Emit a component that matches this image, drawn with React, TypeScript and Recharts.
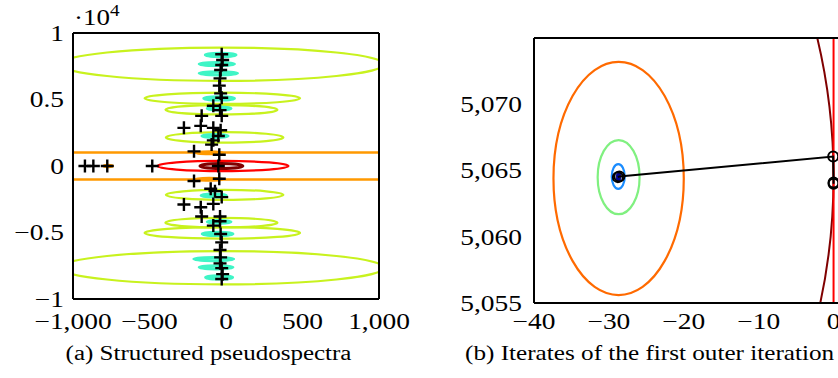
import React from 'react';
import { ScatterChart, Scatter, XAxis, YAxis, ReferenceArea, ReferenceLine } from 'recharts';

type Ell = { cx: number; cy: number; rx: number; ry: number };

// (a) eigenvalues: real part, imaginary part (in 10^4)
const eigsA = [
  { re: -922, im: 0 }, { re: -867, im: 0 }, { re: -776, im: 0 }, { re: -482, im: 0 },
  { re: -50, im: 0 },
  { re: -28, im: 0.84 }, { re: -22, im: 0.797 }, { re: -28, im: 0.759 }, { re: -35, im: 0.722 },
  { re: -39, im: 0.659 }, { re: -44, im: 0.604 }, { re: -35, im: 0.546 }, { re: -28, im: 0.513 },
  { re: -83, im: 0.453 }, { re: -39, im: 0.42 }, { re: -28, im: 0.377 }, { re: -159, im: 0.377 },
  { re: -165, im: 0.302 }, { re: -275, im: 0.287 }, { re: -83, im: 0.287 }, { re: -35, im: 0.269 },
  { re: -50, im: 0.226 }, { re: -83, im: 0.193 }, { re: -94, im: 0.161 }, { re: -209, im: 0.11 },
  { re: -44, im: 0.085 },
  { re: -44, im: -0.096 }, { re: -209, im: -0.113 }, { re: -100, im: -0.171 }, { re: -72, im: -0.189 },
  { re: -28, im: -0.234 }, { re: -275, im: -0.29 }, { re: -83, im: -0.285 }, { re: -165, im: -0.31 },
  { re: -159, im: -0.38 }, { re: -39, im: -0.38 }, { re: -83, im: -0.448 }, { re: -39, im: -0.415 },
  { re: -35, im: -0.511 }, { re: -28, im: -0.574 }, { re: -39, im: -0.632 }, { re: -35, im: -0.687 },
  { re: -39, im: -0.732 }, { re: -28, im: -0.768 }, { re: -22, im: -0.813 }, { re: -28, im: -0.85 },
];

// (a) pseudospectra level curves
const limeA: Ell[] = [
  { cx: -28, cy: 0.765, rx: 1060, ry: 0.125 },
  { cx: -28, cy: -0.765, rx: 1060, ry: 0.125 },
  { cx: -24, cy: 0.509, rx: 508, ry: 0.042 },
  { cx: -24, cy: -0.503, rx: 508, ry: 0.043 },
  { cx: -30, cy: 0.423, rx: 366, ry: 0.035 },
  { cx: -30, cy: -0.426, rx: 366, ry: 0.036 },
  { cx: -9, cy: 0.215, rx: 384, ry: 0.039 },
  { cx: -9, cy: -0.217, rx: 384, ry: 0.038 },
];
const aquaA: Ell[] = [
  { cx: -35, cy: 0.835, rx: 100, ry: 0.012 },
  { cx: -60, cy: 0.767, rx: 115, ry: 0.012 },
  { cx: -50, cy: 0.697, rx: 125, ry: 0.012 },
  { cx: -45, cy: 0.508, rx: 100, ry: 0.012 },
  { cx: -45, cy: 0.432, rx: 78, ry: 0.011 },
  { cx: -72, cy: 0.226, rx: 85, ry: 0.011 },
  { cx: -80, cy: -0.222, rx: 83, ry: 0.011 },
  { cx: -45, cy: -0.42, rx: 78, ry: 0.011 },
  { cx: -55, cy: -0.511, rx: 100, ry: 0.012 },
  { cx: -80, cy: -0.7, rx: 130, ry: 0.012 },
  { cx: -65, cy: -0.762, rx: 110, ry: 0.012 },
  { cx: -45, cy: -0.838, rx: 88, ry: 0.012 },
];
const orangeA: Ell[] = [
  { cx: -30, cy: 0, rx: 20000, ry: 0.102 },
  { cx: -110, cy: 0.1, rx: 90, ry: 0.01 },
  { cx: -110, cy: -0.1, rx: 90, ry: 0.01 },
  { cx: -770, cy: 0, rx: 30, ry: 0.008 },
];
const redA: Ell[] = [{ cx: -20, cy: 0, rx: 428, ry: 0.038 }];
const maroonA: Ell[] = [{ cx: -30, cy: 0, rx: 140, ry: 0.019 }];

const xTicksA = [-1000, -500, 0, 500, 1000];
const yTicksA = [-1, -0.5, 0, 0.5, 1];

// (b) iterates and level curves around the eigenvalue
const iteratesB = [
  { re: -28.8, im: 5064.5 },
  { re: -28.6, im: 5064.55 },
  { re: -0.05, im: 5066.05 },
  { re: 0, im: 5064.1 },
  { re: 0, im: 5064.0 },
];
const orangeB: Ell[] = [{ cx: -28.7, cy: 5064.4, rx: 8.7, ry: 8.8 }];
const greenB: Ell[] = [{ cx: -28.7, cy: 5064.5, rx: 2.8, ry: 2.8 }];
const blueB: Ell[] = [{ cx: -28.75, cy: 5064.55, rx: 0.87, ry: 0.93 }];
const navyB: Ell[] = [{ cx: -28.7, cy: 5064.5, rx: 0.3, ry: 0.35 }];
const maroonB: Ell[] = [{ cx: -152, cy: 5064.5, rx: 152, ry: 62 }];
const redLineB = 0;

const xTicksB = [-40, -30, -20, -10, 0];
const yTicksB = [5055, 5060, 5065, 5070];

const FONT = '"Liberation Serif", serif';
const TICK_SX = 1.22;

const fmt = (v: number) => (v < 0 ? '\u2212' : '') + Math.abs(v).toLocaleString('en-US');

const TickText = (p: any) => (
  <text
    transform={`translate(${p.x},${p.y}) scale(${TICK_SX},1)`}
    textAnchor={p.textAnchor}
    dy={p.dy}
    fontSize={22.5}
    fontFamily={FONT}
    fill="#000"
  >
    {fmt(p.payload.value)}
  </text>
);

const ellipseShape = (color: string, width: number, fill = 'none') => (p: any) => (
  <ellipse
    cx={p.x + p.width / 2}
    cy={p.y + p.height / 2}
    rx={Math.abs(p.width / 2)}
    ry={Math.abs(p.height / 2)}
    fill={fill}
    stroke={color}
    strokeWidth={width}
    clipPath={p.clipPath}
  />
);

const ellipses = (list: Ell[], name: string, color: string, width: number, fill = 'none') =>
  list.map((e, i) => (
    <ReferenceArea
      key={`${name}-${i}`}
      x1={e.cx - e.rx}
      x2={e.cx + e.rx}
      y1={e.cy - e.ry}
      y2={e.cy + e.ry}
      ifOverflow="hidden"
      shape={ellipseShape(color, width, fill)}
    />
  ));

const plus = (p: any) => (
  <path d={`M${p.cx - 6.5},${p.cy}h13M${p.cx},${p.cy - 6.5}v13`} stroke="#000" strokeWidth={2.4} fill="none" />
);

const ring = (p: any) => <circle cx={p.cx} cy={p.cy} r={5} fill="none" stroke="#000" strokeWidth={2} />;

const frameTick = { stroke: '#9a9a9a', strokeWidth: 1.2 };
const frameLine = { stroke: '#000', strokeWidth: 2 };

// four sides of the box: label axes + mirrored axes for the inner ticks
const frameAxes = (xDomain: number[], yDomain: number[], xTicks: number[], yTicks: number[]) => [
  <XAxis key="xt" xAxisId="top" orientation="top" mirror type="number" dataKey="re" domain={xDomain}
    ticks={xTicks} allowDataOverflow tick={false} tickLine={frameTick} tickSize={10} axisLine={frameLine} />,
  <XAxis key="xbm" xAxisId="bm" orientation="bottom" mirror type="number" dataKey="re" domain={xDomain}
    ticks={xTicks} allowDataOverflow tick={false} tickLine={frameTick} tickSize={10} axisLine={frameLine} />,
  <YAxis key="ylm" yAxisId="lm" orientation="left" mirror type="number" dataKey="im" domain={yDomain}
    ticks={yTicks} allowDataOverflow tick={false} tickLine={frameTick} tickSize={10} axisLine={frameLine} />,
  <YAxis key="yr" yAxisId="rm" orientation="right" mirror type="number" dataKey="im" domain={yDomain}
    ticks={yTicks} allowDataOverflow tick={false} tickLine={frameTick} tickSize={10} axisLine={frameLine} />,
];

export default function App() {
  return (
    <div style={{ position: 'fixed', left: 0, top: 0, width: 838, height: 378, overflow: 'hidden', background: '#fff' }}>
      <div style={{ position: 'absolute', left: 0, top: 0 }}>
        <ScatterChart width={425} height={340} margin={{ top: 33, right: 46, bottom: 11, left: 13 }}>
          <XAxis type="number" dataKey="re" domain={[-1000, 1000]} ticks={xTicksA} allowDataOverflow
            tickLine={false} axisLine={false} tickSize={0} tickMargin={14} height={30}
            tick={(p: any) => <TickText {...p} dy="0.71em" />} />
          <YAxis type="number" dataKey="im" domain={[-1, 1]} ticks={yTicksA} allowDataOverflow
            tickLine={false} axisLine={false} tickSize={0} tickMargin={9} width={60}
            tick={(p: any) => <TickText {...p} dy="0.355em" />} />
          {frameAxes([-1000, 1000], [-1, 1], xTicksA, yTicksA)}
          {ellipses(limeA, 'lime', '#c8f21e', 2.2)}
          {ellipses(aquaA, 'aqua', '#3ff5c6', 3)}
          {ellipses(orangeA, 'orange', '#ff9900', 2.4)}
          {ellipses(redA, 'red', '#ff0000', 2.2)}
          {ellipses(maroonA, 'maroon', '#800000', 3)}
          <Scatter data={eigsA} shape={plus} isAnimationActive={false} />
        </ScatterChart>
      </div>
      <div style={{ position: 'absolute', left: 430, top: 0 }}>
        <ScatterChart width={451} height={344} margin={{ top: 38, right: 10, bottom: 11, left: 34 }}>
          <XAxis type="number" dataKey="re" domain={[-40, 5]} ticks={xTicksB} allowDataOverflow
            tickLine={false} axisLine={false} tickSize={0} tickMargin={10} height={30}
            tick={(p: any) => <TickText {...p} dy="0.71em" />} />
          <YAxis type="number" dataKey="im" domain={[5055, 5075]} ticks={yTicksB} allowDataOverflow
            tickLine={false} axisLine={false} tickSize={0} tickMargin={12} width={70}
            tick={(p: any) => <TickText {...p} dy="0.355em" />} />
          {frameAxes([-40, 5], [5055, 5075], xTicksB, yTicksB)}
          {ellipses(orangeB, 'orange', '#ff6a00', 2.2)}
          {ellipses(greenB, 'green', '#80f080', 2.2)}
          {ellipses(blueB, 'blue', '#1a8cff', 2.2)}
          {ellipses(navyB, 'navy', '#000090', 1, '#000090')}
          {ellipses(maroonB, 'maroon', '#800000', 2)}
          <ReferenceLine x={redLineB} stroke="#ff0000" strokeWidth={2} ifOverflow="hidden" />
          <Scatter data={iteratesB} shape={ring} line={{ stroke: '#000', strokeWidth: 2 }}
            fill="#000" isAnimationActive={false} />
        </ScatterChart>
      </div>
      <svg width={838} height={378} style={{ position: 'absolute', left: 0, top: 0, pointerEvents: 'none' }}>
        <text transform="translate(74,25) scale(1.2,1)" fontSize={22.5} fontFamily={FONT}>
          {'\u00b710'}
          <tspan dy={-9} fontSize={16}>4</tspan>
        </text>
        <text transform="translate(208.5,360) scale(1.25,1)" textAnchor="middle" fontSize={20} fontFamily={FONT}>
          (a) Structured pseudospectra
        </text>
        <text transform="translate(465,360) scale(1.26,1)" fontSize={20} fontFamily={FONT}>
          (b) Iterates of the first outer iteration
        </text>
      </svg>
    </div>
  );
}
